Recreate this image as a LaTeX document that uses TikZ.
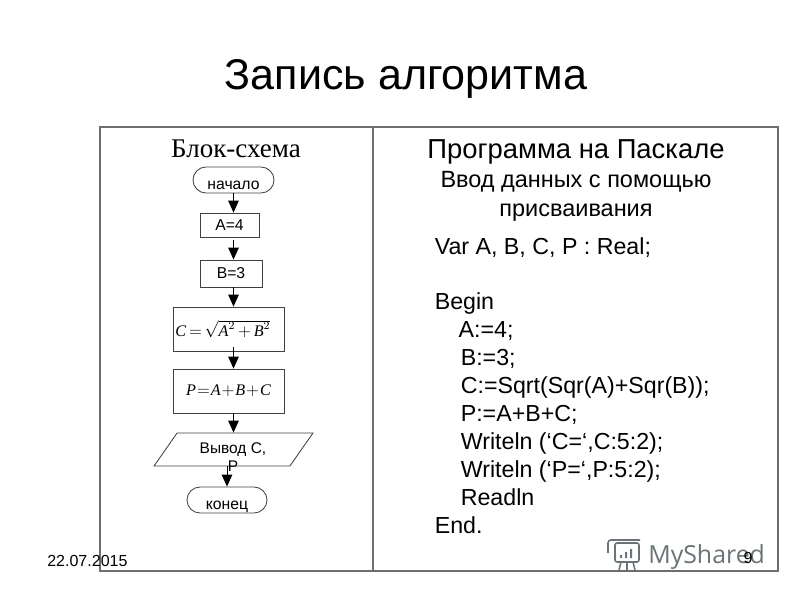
\documentclass[tikz,border=0pt]{standalone}
\usepackage{fontspec}
\setmainfont{Liberation Sans}
\newfontfamily\serifcyr{Liberation Serif}
\newfontfamily\markfont{Open Sans}
\usetikzlibrary{arrows.meta,shapes.geometric,shapes.misc}
\definecolor{framegray}{HTML}{6E6E6E}
\definecolor{markgray}{HTML}{6A7476}
\newcommand{\fm}[1]{\mbox{\serifcyr\itshape #1}}
\tikzset{
	x=0.025cm,y=-0.025cm,
	flowbox/.style={draw=black!75,line width=0.6pt,inner sep=0pt,font=\fontsize{11.2}{13}\selectfont},
	flowround/.style={flowbox,rounded rectangle},
	flowarrow/.style={-{Triangle[length=8.5pt,width=7.5pt]},line width=0.7pt,black},
	frameline/.style={framegray,line width=1.2pt},
	markline/.style={markgray,line width=1.1pt}
}
\begin{document}
\begin{tikzpicture}
	\useasboundingbox (0,0) rectangle (800,600);
	\node (title) at (406,79) {\fontsize{30.6}{36}\selectfont Запись алгоритма};
	% table
	\draw [frameline] (100,127) rectangle (778,571);
	\draw [frameline] (373,127) -- (373,571);
	\node (leftHead) at (236,149) {\serifcyr\fontsize{19.2}{21}\selectfont Блок-схема};
	\node (rightHead) at (576,152) {\fontsize{19.5}{23}\selectfont Программа на Паскале};
	\node (rightSub) [align=center,font=\fontsize{16.7}{20.6}\selectfont] at (576,196) {Ввод данных с помощью \\ присваивания};
	% flowchart
	\node (start) [flowround,minimum width=81*0.711pt,minimum height=26*0.711pt] at (233.5,180) {\smash{\raisebox{-7pt}{начало}}};
	\node (stepA) [flowbox,minimum width=59*0.711pt,minimum height=24*0.711pt] at (229.5,225) {A=4};
	\node (stepB) [flowbox,minimum width=62*0.711pt,minimum height=27*0.711pt] at (231,273.5) {B=3};
	\node (stepC) [flowbox,minimum width=111*0.711pt,minimum height=44*0.711pt] at (228.5,329) {\hspace*{-8pt}\fontsize{11.5}{13}\selectfont\thickmuskip=3mu\medmuskip=3mu $\fm{C}=\sqrt{\fm{A}^2+\fm{B}^2}$};
	\node (stepP) [flowbox,minimum width=111*0.711pt,minimum height=44*0.711pt] at (228.5,391) {\fontsize{11.5}{13}\selectfont\thickmuskip=1mu\medmuskip=1mu $\fm{P}=\fm{A}+\fm{B}+\fm{C}$};
	\node (output) [flowbox,trapezium,trapezium left angle=31.2,trapezium right angle=148.8,trapezium stretches body,minimum width=159*0.711pt,minimum height=33*0.711pt] at (233.5,449.5) {\phantom{Вывод}};
	\node (outputText) [align=center,font=\fontsize{11}{13}\selectfont] at (233,457) {Вывод С, \\[0pt] Р};
	\node (stop) [flowround,minimum width=80*0.711pt,minimum height=26*0.711pt] at (227,500) {\smash{\raisebox{-6.5pt}{конец}}};
	\draw [flowarrow] (start.south) -- (start.south |- stepA.north);
	\draw [flowarrow,shorten <=2pt] (start.south |- stepA.south) -- (start.south |- stepB.north);
	\draw [flowarrow] (start.south |- stepB.south) -- (start.south |- stepC.north);
	\draw [flowarrow,shorten <=-3pt] (start.south |- stepC.south) -- (start.south |- stepP.north);
	\draw [flowarrow] (start.south |- stepP.south) -- (start.south |- output.north);
	\draw [flowarrow] (stop.north |- output.south) -- (stop.north);
	% program text
	\node (program) [anchor=north west,align=left,inner sep=0pt,font=\fontsize{16.5}{19.85}\selectfont] at (434.5,237) {Var A, B, C, P : Real;\\
		\\
		Begin\\
		\hspace*{17pt}A:=4;\\
		\hspace*{18.5pt}B:=3;\\
		\hspace*{18.5pt}C:=Sqrt(Sqr(A)+Sqr(B));\\
		\hspace*{18.5pt}P:=A+B+C;\\
		\hspace*{18.5pt}Writeln (‘C=‘,C:5:2);\\
		\hspace*{18.5pt}Writeln (‘P=‘,P:5:2);\\
		\hspace*{18.5pt}Readln\\
		End.};
	% watermark
	\node (markText) [anchor=base west,inner sep=0pt,text=markgray] at (648,563) {\markfont\fontsize{17.7}{21}\selectfont MyShared};
	\draw [markline,rounded corners=1.5pt] (615,543) rectangle (639,562);
	\draw [markline,rounded corners=2pt] (608,553) -- (608,540) -- (640,540);
	\fill [markgray] (620,555) rectangle (622,558) (625,552) rectangle (627,558) (630,549) rectangle (632,558);
	\draw [markline] (621,562) -- (619,570) (627,562) -- (627,570) (633,562) -- (635,570);
	% footer
	\node (date) [anchor=west,inner sep=0pt,font=\fontsize{11.4}{13}\selectfont] at (47,561) {22.07.2015};
	\node (pageNo) [inner sep=0pt,font=\fontsize{11.4}{13}\selectfont] at (748,558) {9};
\end{tikzpicture}
\end{document}
